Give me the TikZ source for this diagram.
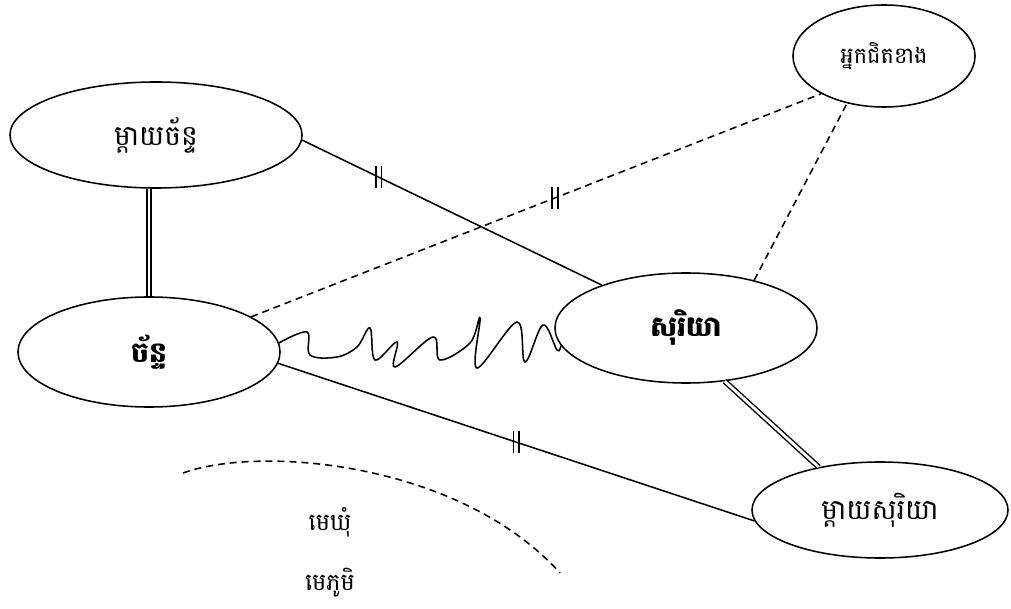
\documentclass[tikz,border=0pt]{standalone}
\usepackage{fontspec}
\setmainfont[Script=Khmer]{Battambang}
\usetikzlibrary{shapes.geometric}

\tikzset{
	person/.style={ellipse, draw, line width=1.1pt, inner sep=0pt, font=\fontsize{20}{24}\selectfont},
	link/.style={line width=1.1pt},
	kin/.style={line width=1pt, double, double distance=2pt},
	loose/.style={line width=1.1pt, dash pattern=on 5pt off 3.5pt},
	twobar/.pic={\draw[solid, line width=1.1pt] (-2pt,-8pt) -- (-2pt,8pt) (2pt,-8pt) -- (2pt,8pt);}
}

\begin{document}
\begin{tikzpicture}[x=0.025cm, y=-0.025cm]
		\useasboundingbox (0,0) rectangle (1011,609);
		
		\node[person, minimum width=7.3cm, minimum height=2.65cm] (motherchan) at (156,135) {ម្តាយច័ន្ទ};
		\node[person, minimum width=6.55cm, minimum height=2.75cm, font=\fontsize{20}{24}\selectfont\bfseries] (chan) at (149,352) {ច័ន្ទ};
		\node[person, minimum width=6.55cm, minimum height=2.75cm, font=\fontsize{20}{24}\selectfont\bfseries] (soriya) at (686,328) {សុរិយា};
		\node[person, minimum width=6.4cm, minimum height=2.4cm] (mothersoriya) at (880,510) {ម្តាយសុរិយា};
		\node[person, minimum width=4.55cm, minimum height=2.55cm, font=\fontsize{16}{20}\selectfont] (neighbour) at (884,56) {អ្នកជិតខាង};
		\node[font=\fontsize{17}{20}\selectfont] (chief) at (330,522) {មេឃុំ};
		\node[font=\fontsize{17}{20}\selectfont] (headman) at (330,583) {មេភូមិ};
		
		\draw[kin] (chan.north |- motherchan.south) -- (chan.north);
		\draw[kin] (soriya.-54) -- (mothersoriya.145);
		\draw[link] (motherchan.-2) -- pic[pos=.255]{twobar} (soriya.153);
		\draw[link] (chan.-5.5) -- pic[pos=.5]{twobar} (mothersoriya.185);
		\draw[loose] (chan.19) -- pic[pos=.533]{twobar} (neighbour.211);
		\draw[loose] (soriya.35) -- (neighbour.232);
		\draw[link] plot[smooth, tension=.6] coordinates {(chan.4) (307,332) (310,355) (337,357) (357,347) (370,328) (375,360) (397,342) (395,367) (433,337) (440,360) (470,343) (480,318) (477,368) (517,322) (525,362) (543,325) (557,350) (soriya.188)};
		\draw[loose] (183,473) .. controls (260,445) and (460,462) .. (560,573);
	\end{tikzpicture}
\end{document}
